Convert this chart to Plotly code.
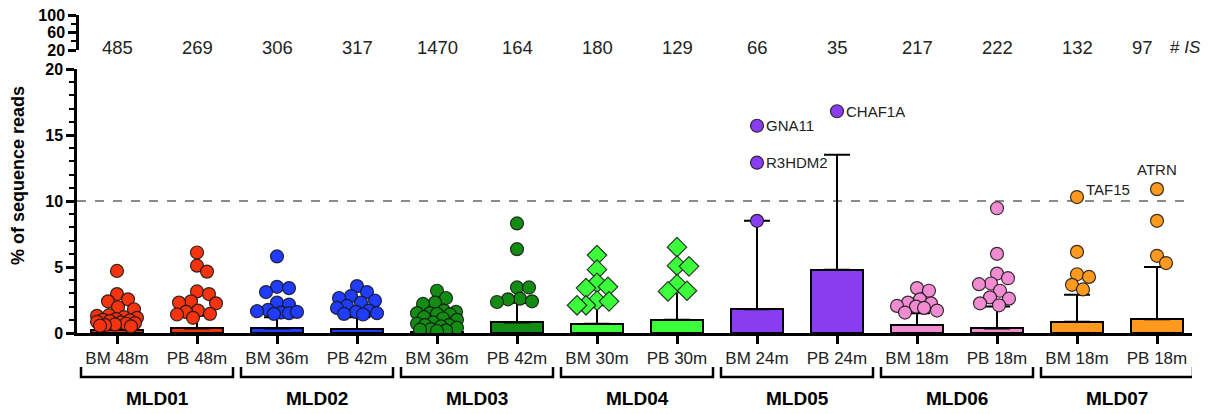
import math
import plotly.graph_objects as go

# Samples (x axis) and patients (brackets)
categories = ["BM 48m", "PB 48m", "BM 36m", "PB 42m", "BM 36m", "PB 42m", "BM 30m",
              "PB 30m", "BM 24m", "PB 24m", "BM 18m", "PB 18m", "BM 18m", "PB 18m"]
patients = ["MLD01", "MLD02", "MLD03", "MLD04", "MLD05", "MLD06", "MLD07"]
is_counts = [485, 269, 306, 317, 1470, 164, 180, 129, 66, 35, 217, 222, 132, 97]

# Mean % of sequence reads per sample and upper SD
bar_mean = [0.25, 0.35, 0.35, 0.3, 0.1, 0.8, 0.7, 1.0, 1.8, 4.8, 0.6, 0.35, 0.85, 1.05]
bar_sd = [0.65, 0.95, 0.85, 0.9, 0.5, 1.5, 1.4, 2.1, 6.7, 8.7, 0.9, 1.65, 2.05, 3.95]

# Individual integration sites (% of reads) per sample
mld01_bm = [4.7, 2.95, 2.55, 2.4, 1.95, 1.8, 1.35, 1.3, 1.2, 1.15, 1.05, 1.0, 0.95,
            0.9, 0.85, 0.8, 0.75, 0.7, 0.65, 0.6, 0.55, 0.5]
mld01_pb = [6.1, 5.1, 4.65, 3.15, 2.95, 2.4, 2.3, 2.25, 1.7, 1.6, 1.45, 1.4, 1.15]
mld02_bm = [5.8, 3.5, 3.4, 3.1, 2.3, 2.15, 1.75, 1.65, 1.55, 1.5, 1.45, 1.6]
mld02_pb = [3.55, 3.1, 2.8, 2.65, 2.45, 2.3, 2.05, 1.9, 1.7, 1.6, 1.45, 1.4, 1.5]
mld03_bm = [3.2, 2.65, 2.3, 2.2, 1.7, 1.6, 1.5, 1.5, 1.45, 1.4, 1.2, 1.1, 1.0, 0.8,
            0.7, 0.6, 0.6, 0.5, 0.4, 0.3, 0.25, 0.2, 0.15]
mld03_pb = [8.3, 6.35, 3.45, 3.45, 2.6, 2.55, 2.4, 2.35]
mld04_bm = [5.9, 4.8, 3.8, 3.5, 3.4, 2.45, 2.4, 2.1, 2.1]
mld04_pb = [6.5, 5.1, 5.05, 3.7, 3.2, 3.15]
mld05_bm = [15.7, 12.9, 8.5]
mld05_pb = [16.8]
mld06_bm = [3.4, 3.2, 2.55, 2.3, 2.25, 2.05, 2.0, 1.9, 1.7, 1.55]
mld06_pb = [9.45, 6.0, 4.5, 4.15, 3.75, 3.7, 3.2, 2.7, 2.6, 2.25, 2.1]
mld07_bm = [10.3, 6.15, 4.45, 4.25, 3.65, 3.3]
mld07_pb = [10.9, 8.5, 5.85, 5.3]

sites = [mld01_bm, mld01_pb, mld02_bm, mld02_pb, mld03_bm, mld03_pb, mld04_bm,
         mld04_pb, mld05_bm, mld05_pb, mld06_bm, mld06_pb, mld07_bm, mld07_pb]

# Labelled genes: (sample index, value, name)
gene_labels = [(8, 15.7, "GNA11"), (8, 12.9, "R3HDM2"), (9, 16.8, "CHAF1A"),
               (12, 10.3, "TAF15"), (13, 10.9, "ATRN")]

patient_colors = ["#F5330F", "#1F3CFF", "#138C13", "#3CFF3C", "#8A3CF0", "#F28CD2", "#FF9A1E"]
patient_symbols = ["circle", "circle", "circle", "diamond", "circle", "circle", "circle"]

FONT = "Arial, Liberation Sans, sans-serif"
PX_PER_X = 80.0
PX_PER_Y = 13.2
W, H, M_L, M_R, M_T, M_B = 1208, 414, 77, 16, 15, 81
PLOT_W = W - M_L - M_R
PLOT_H = H - M_T - M_B


def paper_y(px):
    """Vertical pixel position (from top of page) -> paper coordinate."""
    return (H - M_B - px) / PLOT_H


def paper_x(px):
    return (px - M_L) / PLOT_W


def swarm_offsets(values, diameter=11.5, max_half=20):
    """Beeswarm layout: highest values first, nearest free slot to the centre."""
    order = sorted(range(len(values)), key=lambda k: -values[k])
    cands = [0]
    for s in range(1, max_half + 1):
        cands += [s, -s]
    placed, offs = [], [0.0] * len(values)
    for k in order:
        y = values[k] * PX_PER_Y
        best, best_d = 0, -1.0
        for c in cands:
            d = min((math.hypot(c - px, y - py) for px, py in placed), default=1e9)
            if d >= diameter:
                best = c
                break
            if d > best_d:
                best_d, best = d, c
        placed.append((best, y))
        offs[k] = best / PX_PER_X
    return offs


fig = go.Figure()
sample_colors = [patient_colors[i // 2] for i in range(len(categories))]
xs = list(range(len(categories)))

fig.add_trace(go.Bar(
    x=xs, y=bar_mean, width=0.66,
    marker=dict(color=sample_colors, line=dict(color="black", width=2)),
    error_y=dict(type="data", symmetric=False, array=bar_sd,
                 arrayminus=[0] * len(bar_sd), color="black", thickness=2, width=13),
    showlegend=False, hoverinfo="skip",
))

for i, vals in enumerate(sites):
    p = i // 2
    offs = swarm_offsets(vals)
    sym = patient_symbols[p]
    fig.add_trace(go.Scatter(
        x=[i + o for o in offs], y=vals, mode="markers",
        marker=dict(symbol=sym, size=15 if sym == "diamond" else 13,
                    color=patient_colors[p],
                    line=dict(color="rgba(20,20,20,0.85)", width=1.2)),
        showlegend=False, hoverinfo="skip",
    ))

# Invisible trace so the upper (20-100) axis segment is drawn
fig.add_trace(go.Scatter(x=[0], y=[50], yaxis="y2", mode="markers",
                         marker=dict(opacity=0), showlegend=False, hoverinfo="skip"))

shapes = [dict(type="line", xref="paper", yref="y", x0=0, x1=0.998, y0=10, y1=10,
               line=dict(color="#8a8a8a", width=2, dash="dash"), layer="below")]

# Patient brackets below the sample labels
br_y, br_top = paper_y(377), paper_y(367)
for p in range(len(patients)):
    c = 2 * p + 0.5
    x0, x1 = c - 0.95, c + 0.95
    shapes.append(dict(type="path", xref="x", yref="paper",
                       path=f"M {x0},{br_top} L {x0},{br_y} L {x1},{br_y} L {x1},{br_top}",
                       line=dict(color="black", width=2.5)))

annotations = []
for p, name in enumerate(patients):
    annotations.append(dict(x=2 * p + 0.5, y=paper_y(398), xref="x", yref="paper",
                            yanchor="middle", text=f"<b>{name}</b>", showarrow=False,
                            font=dict(family=FONT, size=19, color="black")))
for i, n in enumerate(is_counts):
    annotations.append(dict(x=i, y=paper_y(48), xref="x", yref="paper", yanchor="middle",
                            text=str(n), showarrow=False,
                            xshift=-15 if i == len(is_counts) - 1 else 0,
                            font=dict(family=FONT, size=18.5, color="#222")))
annotations.append(dict(x=paper_x(1185), y=paper_y(48), xref="paper", yref="paper",
                        xanchor="center", yanchor="middle",
                        text="# <i>IS</i>", showarrow=False,
                        font=dict(family=FONT, size=17, color="#222")))
for i, v, g in gene_labels:
    if g == "ATRN":
        annotations.append(dict(x=i, y=v, xref="x", yref="y", text=g, showarrow=False,
                                yanchor="bottom", yshift=9,
                                font=dict(family=FONT, size=15, color="#222")))
    else:
        annotations.append(dict(x=i, y=v, xref="x", yref="y", text=g, showarrow=False,
                                xanchor="left", xshift=7, yshift=8 if g == "TAF15" else 0,
                                font=dict(family=FONT, size=15, color="#222")))
annotations.append(dict(x=paper_x(18), y=paper_y(176), xref="paper", yref="paper",
                        xanchor="center", yanchor="middle",
                        text="<b>% of sequence reads</b>", textangle=-90, showarrow=False,
                        font=dict(family=FONT, size=18, color="black")))

fig.update_layout(
    width=W, height=H,
    margin=dict(l=M_L, r=M_R, t=M_T, b=M_B, autoexpand=False),
    paper_bgcolor="white", plot_bgcolor="white",
    font=dict(family=FONT, color="black"),
    bargap=0, barmode="overlay",
    shapes=shapes, annotations=annotations,
    xaxis=dict(range=[-0.5, 13.4375], tickvals=xs, ticktext=categories,
               showline=True, linecolor="black", linewidth=2.5,
               ticks="outside", ticklen=8, tickwidth=2.5, tickcolor="black",
               tickfont=dict(family=FONT, size=17, color="#222"),
               showgrid=False, zeroline=False, anchor="y", automargin=False),
    yaxis=dict(domain=[0, (333 - 69) / PLOT_H], range=[0, 20], tickvals=[0, 5, 10, 15, 20],
               showline=True, linecolor="black", linewidth=2.5,
               ticks="outside", ticklen=8, tickwidth=2.5, tickcolor="black",
               minor=dict(dtick=1, ticks="outside", ticklen=5, tickwidth=2, tickcolor="black"),
               tickfont=dict(family=FONT, size=16, color="black", weight="bold"),
               showgrid=False, zeroline=False, anchor="x", automargin=False),
    yaxis2=dict(domain=[(333 - 50) / PLOT_H, (333 - 15) / PLOT_H], range=[20, 100],
                tickvals=[20, 60, 100],
                showline=True, linecolor="black", linewidth=2.5,
                ticks="outside", ticklen=8, tickwidth=2.5, tickcolor="black",
                minor=dict(tickvals=[40, 80], ticks="outside", ticklen=5, tickwidth=2,
                           tickcolor="black"),
                tickfont=dict(family=FONT, size=16, color="black", weight="bold"),
                showgrid=False, zeroline=False, anchor="free", position=0,
                automargin=False),
)

fig.write_html("out.html")
